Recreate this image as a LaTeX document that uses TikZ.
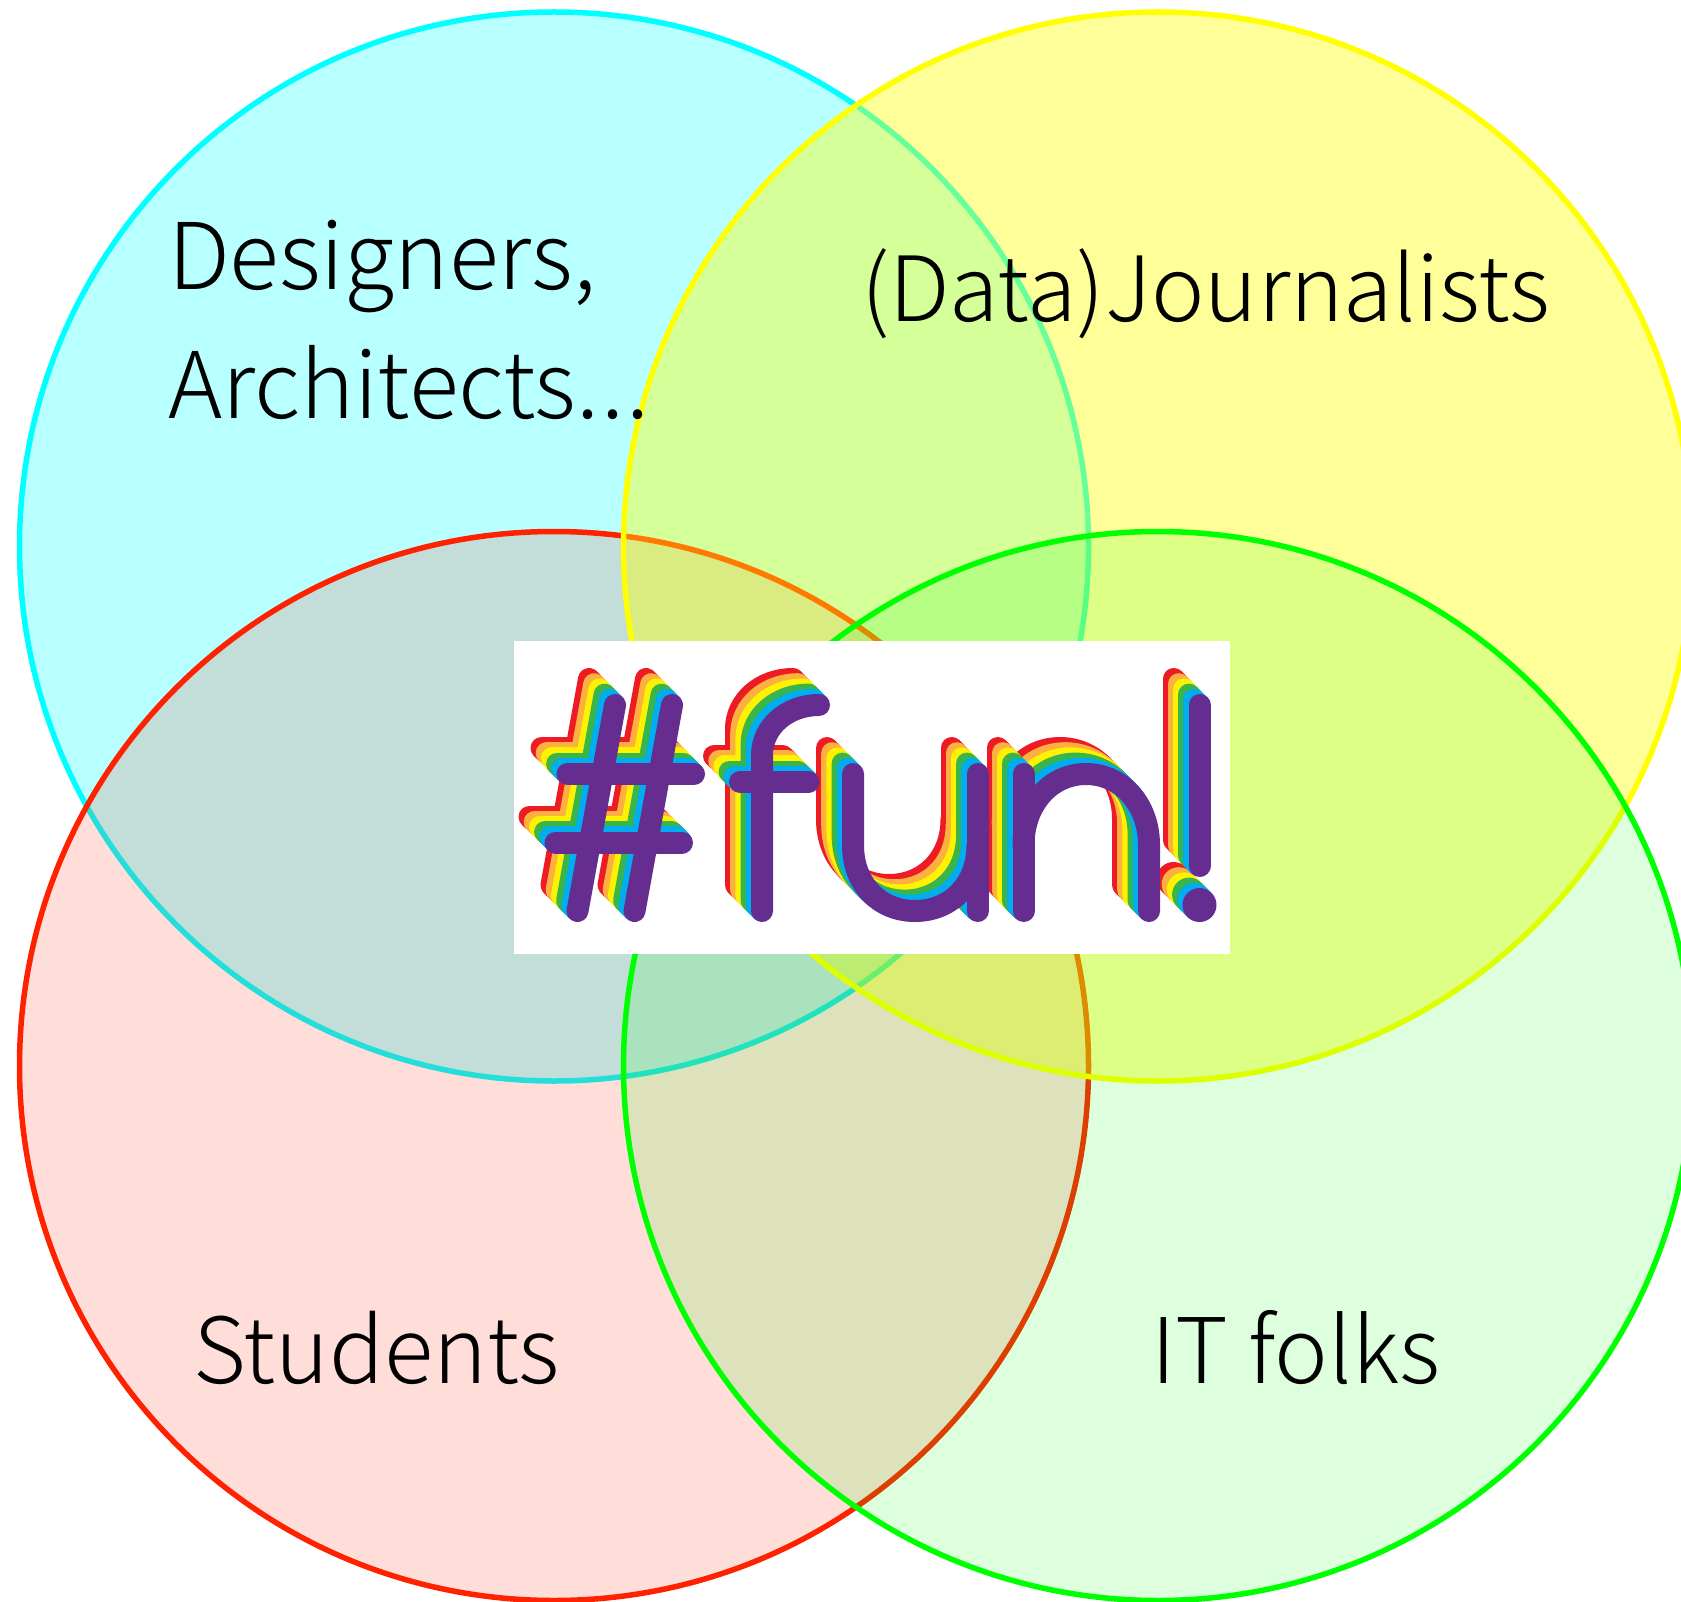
\documentclass[tikz,border=0pt]{standalone}
\usepackage{fontspec}
\newfontfamily\vennfont{Noto Sans CJK JP Light}
\usetikzlibrary{positioning}
\definecolor{vncyan}{RGB}{0,255,255}
\definecolor{vnyellow}{RGB}{255,255,0}
\definecolor{vnred}{RGB}{255,34,0}
\definecolor{vngreen}{RGB}{0,255,0}
\definecolor{funred}{RGB}{237,28,36}
\definecolor{funorange}{RGB}{251,176,64}
\definecolor{funyellow}{RGB}{255,242,0}
\definecolor{fungreen}{RGB}{57,181,74}
\definecolor{funblue}{RGB}{0,174,239}
\definecolor{funpurple}{RGB}{102,45,145}
\tikzstyle{venn} = [line width=5.5pt]
\tikzstyle{vennlabel} = [inner sep=0pt,outer sep=0pt,anchor=base west,align=left,font=\vennfont\fontsize{91}{129}\selectfont]
\tikzstyle{funline} = [line width=22pt,line cap=round,line join=round]
% the letters of the logo, in the colour of the scope around them
\newcommand{\funletters}{
  \draw[funline] (615,705) -- (577.5,911);
  \draw[funline] (672,705) -- (634.5,911);
  \draw[funline] (567.5,774) -- (694,774);
  \draw[funline] (555.5,842.5) -- (682,842.5);
  \draw[funline] (762,911) -- (762,755) .. controls (762,727) and (787,705) .. (819,705);
  \draw[funline] (740,782) -- (808.5,782);
  \draw[funline] (853,774) -- (853,845) .. controls (853,885) and (880,911) .. (915,911) .. controls (950,911) and (977.5,885) .. (977.5,845);
  \draw[funline] (977.5,774) -- (977.5,911);
  \draw[funline] (1023.5,774) -- (1023.5,911);
  \draw[funline] (1023.5,845) .. controls (1023.5,805) and (1050,774) .. (1086,774) .. controls (1122,774) and (1149,805) .. (1149,845) -- (1149,911);
  \draw[funline] (1199.5,705) -- (1199.5,866);
  \fill (1199.5,905) circle (17);
}
\begin{document}
\begin{tikzpicture}[x=1pt,y=-1pt]
\useasboundingbox (0,0) rectangle (1681,1602);
% Four circles
\draw[venn,draw=vncyan,fill=vncyan,fill opacity=0.28] (554,546.5) circle (534.5);
\draw[venn,draw=vnred,fill=vnred,fill opacity=0.15] (554,1066) circle (534.5);
\draw[venn,draw=vnyellow,fill=vnyellow,fill opacity=0.4] (1158,546.5) circle (534.5);
\draw[venn,draw=vngreen,fill=vngreen,fill opacity=0.133] (1158,1066) circle (534.5);

\node[vennlabel,font=\vennfont\fontsize{92}{129}\selectfont] (designers) at (168,418) {Designers,\\Architects.\kern2pt.\kern2pt.};
\node[vennlabel,font=\vennfont\fontsize{90}{129}\selectfont] (journalists) at (861,322) {(Data)Journalists};
\node[vennlabel] (students) at (193,1383) {Students};
\node[vennlabel,font=\vennfont\fontsize{90.5}{129}\selectfont] (itfolks) at (1151,1383) {IT folks};

% Logo
\fill[white] (513.5,641) rectangle (1230,953.5);
\foreach \col [count=\k from 0] in {funred,funorange,funyellow,fungreen,funblue}
  \foreach \d in {0,1,2,3,4}
    \begin{scope}[color=\col,shift={({-(26-5.2*\k-1.04*\d)},{-(26-5.2*\k-1.04*\d)})}]
    \funletters
    \end{scope};
\begin{scope}[color=funpurple]
\funletters
\end{scope}
\end{tikzpicture}
\end{document}
